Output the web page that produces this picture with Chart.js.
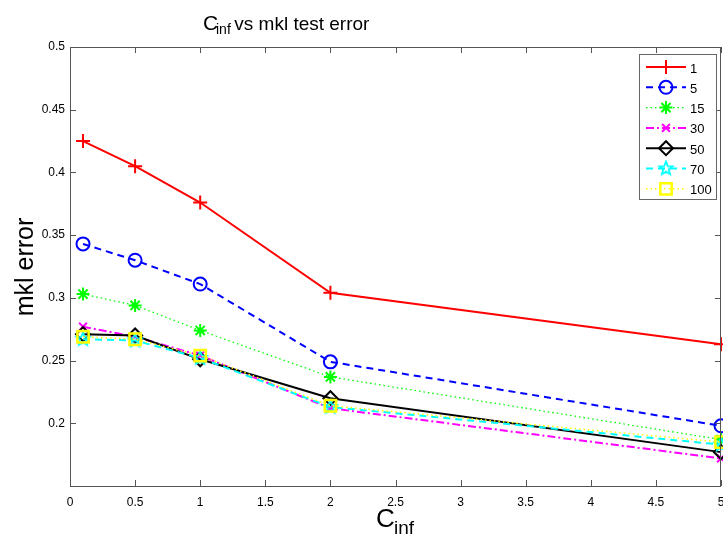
<!DOCTYPE html>
<html>
<head>
<meta charset="utf-8">
<script src="https://cdn.jsdelivr.net/npm/chart.js@4.4.1/dist/chart.umd.min.js"></script>
<style>
  html, body { margin: 0; padding: 0; background: #fff; }
</style>
</head>
<body>
<canvas id="myChart" width="723" height="538"></canvas>
<script>
// C_inf values on the x axis
const cInf = [0.1, 0.5, 1, 2, 5];

// legend names and test error per series
const seriesNames = ["1", "5", "15", "30", "50", "70", "100"];
const err1 = [0.425, 0.405, 0.376, 0.304, 0.263];
const err5 = [0.343, 0.330, 0.311, 0.249, 0.198];
const err15 = [0.303, 0.294, 0.274, 0.237, 0.187];
const err30 = [0.277, 0.269, 0.254, 0.212, 0.172];
const err50 = [0.271, 0.270, 0.251, 0.220, 0.177];
const err70 = [0.267, 0.266, 0.252, 0.213, 0.183];
const err100 = [0.269, 0.267, 0.254, 0.214, 0.185];

const xTicks = [0, 0.5, 1, 1.5, 2, 2.5, 3, 3.5, 4, 4.5, 5];
const yTicks = [0.2, 0.25, 0.3, 0.35, 0.4, 0.45, 0.5];

const FONT = '"Liberation Sans", Arial, Helvetica, sans-serif';

// five pointed star marker (MATLAB 'p')
function makePentagram(color) {
  const c = document.createElement("canvas");
  c.width = 18;
  c.height = 18;
  const g = c.getContext("2d");
  g.strokeStyle = color;
  g.lineWidth = 1.8;
  g.beginPath();
  for (let i = 0; i < 10; i++) {
    const r = i % 2 === 0 ? 7 : 3;
    const a = -Math.PI / 2 + i * Math.PI / 5;
    const px = 9 + r * Math.cos(a);
    const py = 9 + r * Math.sin(a);
    if (i === 0) g.moveTo(px, py);
    else g.lineTo(px, py);
  }
  g.closePath();
  g.stroke();
  return c;
}

function pts(values) {
  return cInf.map((x, i) => ({ x: x, y: values[i] }));
}

const styles = [
  { color: "#ff0000", dash: [], width: 2, point: "cross", radius: 7, pw: 2 },
  { color: "#0000ff", dash: [7, 5], width: 2, point: "circle", radius: 6.5, pw: 2 },
  { color: "#00ff00", dash: [1.5, 3], width: 1.3, point: "star", radius: 6.5, pw: 2 },
  { color: "#ff00ff", dash: [8, 3, 2, 3], width: 2, point: "crossRot", radius: 5.5, pw: 2 },
  { color: "#000000", dash: [], width: 2, point: "rectRot", radius: 7, pw: 2 },
  { color: "#00ffff", dash: [7, 5], width: 2, point: makePentagram("#00ffff"), radius: 7, pw: 2 },
  { color: "#ffff00", dash: [1.5, 3], width: 1.5, point: "rect", radius: 8, pw: 2.5 },
];
const allErr = [err1, err5, err15, err30, err50, err70, err100];

const datasets = seriesNames.map((name, i) => ({
  label: name,
  data: pts(allErr[i]),
  borderColor: styles[i].color,
  borderWidth: styles[i].width,
  borderDash: styles[i].dash,
  pointStyle: styles[i].point,
  pointRadius: styles[i].radius,
  pointBorderWidth: styles[i].pw,
  pointBorderColor: styles[i].color,
  pointBackgroundColor: "rgba(0,0,0,0)",
  fill: false,
  tension: 0,
  clip: false,
  order: 7 - i,
}));

// draws text pieces at given x, baseline y
function drawParts(ctx, parts) {
  parts.forEach((p) => {
    ctx.font = p.size + "px " + FONT;
    ctx.fillText(p.text, p.x, p.y);
  });
}

const matlabLook = {
  id: "matlabLook",
  afterDatasetsDraw(chart) {
    const ctx = chart.ctx;
    const a = chart.chartArea;
    const xs = chart.scales.x;
    const ys = chart.scales.y;
    ctx.save();
    ctx.setLineDash([]);
    ctx.strokeStyle = "#555";
    ctx.lineWidth = 1;
    // box
    ctx.strokeRect(a.left + 0.5, a.top + 0.5, a.right - a.left - 1, a.bottom - a.top);
    // inward ticks
    ctx.beginPath();
    xTicks.forEach((v) => {
      const px = Math.round(xs.getPixelForValue(v)) + 0.5;
      ctx.moveTo(px, a.bottom);
      ctx.lineTo(px, a.bottom - 6);
      ctx.moveTo(px, a.top);
      ctx.lineTo(px, a.top + 6);
    });
    yTicks.forEach((v) => {
      const py = Math.round(ys.getPixelForValue(v)) + 0.5;
      ctx.moveTo(a.left, py);
      ctx.lineTo(a.left + 6, py);
      ctx.moveTo(a.right, py);
      ctx.lineTo(a.right - 6, py);
    });
    ctx.stroke();

    // legend
    const lx = 639, ly = 54, lw = 77, lh = 145;
    ctx.fillStyle = "#fff";
    ctx.fillRect(lx, ly, lw, lh);
    ctx.strokeStyle = "#666";
    ctx.strokeRect(lx + 0.5, ly + 0.5, lw, lh);
    seriesNames.forEach((name, i) => {
      const s = styles[i];
      const y = 67 + i * 20.3;
      ctx.strokeStyle = s.color;
      ctx.lineWidth = s.width;
      ctx.setLineDash(s.dash);
      ctx.beginPath();
      ctx.moveTo(646, y);
      ctx.lineTo(686, y);
      ctx.stroke();
      ctx.setLineDash([]);
      ctx.lineWidth = s.pw;
      ctx.fillStyle = "rgba(0,0,0,0)";
      Chart.helpers.drawPoint(ctx, { pointStyle: s.point, radius: s.radius, borderWidth: s.pw, rotation: 0 }, 666, y);
      ctx.fillStyle = "#000";
      ctx.font = "13px " + FONT;
      ctx.textBaseline = "middle";
      ctx.fillText(name, 690, y + 2);
    });
    ctx.restore();
  },
  afterDraw(chart) {
    const ctx = chart.ctx;
    ctx.save();
    ctx.fillStyle = "#000";
    ctx.textBaseline = "alphabetic";
    // title
    drawParts(ctx, [
      { text: "C", size: 21, x: 203, y: 30 },
      { text: "inf", size: 14, x: 216, y: 34 },
      { text: " vs mkl test error", size: 19, x: 229, y: 30 },
    ]);
    // x axis label
    drawParts(ctx, [
      { text: "C", size: 26, x: 376, y: 527 },
      { text: "inf", size: 19, x: 394, y: 534 },
    ]);
    // y axis label
    ctx.translate(33, 267);
    ctx.rotate(-Math.PI / 2);
    ctx.font = "25px " + FONT;
    ctx.textAlign = "center";
    ctx.fillText("mkl error", 0, 0);
    ctx.restore();
  },
};

const ctx = document.getElementById("myChart").getContext("2d");

const myChart = new Chart(ctx, {
  type: "line",
  data: { datasets: datasets },
  options: {
    responsive: false,
    devicePixelRatio: 1,
    animation: false,
    layout: {
      autoPadding: false,
      padding: { top: 47, right: 2, left: 0, bottom: 0 },
    },
    plugins: {
      legend: { display: false },
      title: { display: false },
      tooltip: { enabled: false },
    },
    scales: {
      x: {
        type: "linear",
        min: 0,
        max: 5,
        afterBuildTicks: (s) => { s.ticks = xTicks.map((v) => ({ value: v })); },
        afterFit: (s) => {
          s.height = 52;
          s.paddingLeft = 0;
          s.paddingRight = 0;
        },
        grid: { display: false, drawTicks: false },
        border: { display: false },
        ticks: {
          color: "#000",
          font: { size: 12, family: FONT },
          padding: 9,
          maxRotation: 0,
          autoSkip: false,
          callback: (v) => String(v),
        },
      },
      y: {
        type: "linear",
        min: 0.15,
        max: 0.5,
        afterBuildTicks: (s) => { s.ticks = yTicks.map((v) => ({ value: v })); },
        afterFit: (s) => {
          s.width = 70;
          s.paddingTop = 0;
          s.paddingBottom = 0;
        },
        grid: { display: false, drawTicks: false },
        border: { display: false },
        ticks: {
          color: "#000",
          font: { size: 12, family: FONT },
          padding: 5,
          autoSkip: false,
          callback: (v) => String(v),
        },
      },
    },
  },
  plugins: [matlabLook],
});
</script>
</body>
</html>
